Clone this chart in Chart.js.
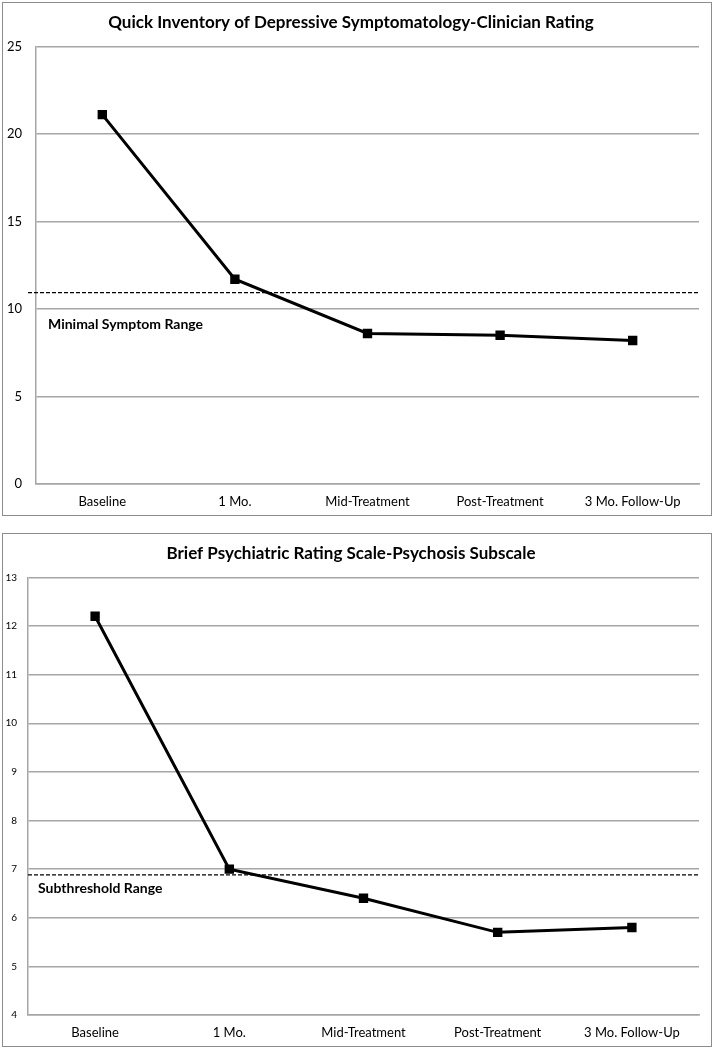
<!DOCTYPE html>
<html>
<head>
<meta charset="utf-8">
<script src="https://cdn.jsdelivr.net/npm/chart.js@4/dist/chart.umd.min.js"></script>
<style>
  body { margin: 0; background: #fff; }
  .box { position: absolute; left: 2px; width: 708px; height: 512px; border: 1px solid #8c8c8c; }
  #box1 { top: 2px; }
  #box2 { top: 533px; }
</style>
</head>
<body>
<div class="box" id="box1"><canvas id="chart1" width="708" height="512"></canvas></div>
<div class="box" id="box2"><canvas id="chart2" width="708" height="512"></canvas></div>
<script>
// data
var categories = ["Baseline", "1 Mo.", "Mid-Treatment", "Post-Treatment", "3 Mo. Follow-Up"];
var qidsValues = [21.1, 11.7, 8.6, 8.5, 8.2];
var bprsValues = [12.2, 7.0, 6.4, 5.7, 5.8];
var qidsTicks = [0, 25, 5];   // min, max, step
var bprsTicks = [4, 13, 1];
var qidsCutoff = 10.93;
var bprsCutoff = 6.88;

Chart.defaults.font.family = "Lato, 'Open Sans', sans-serif";
Chart.defaults.color = '#000';

// dashed cut-off line plus the range label
var rangeLine = {
    id: 'rangeLine',
    afterDatasetsDraw: function (chart, args, opts) {
        var ctx = chart.ctx;
        var y = chart.scales.y.getPixelForValue(opts.value);
        var area = chart.chartArea;
        ctx.save();
        ctx.strokeStyle = '#000';
        ctx.lineWidth = 1.2;
        ctx.setLineDash([4, 2]);
        ctx.beginPath();
        ctx.moveTo(area.left - opts.extendLeft, y);
        ctx.lineTo(area.right, y);
        ctx.stroke();
        ctx.setLineDash([]);
        ctx.font = 'bold 14px Lato, sans-serif';
        ctx.textBaseline = 'middle';
        ctx.fillStyle = '#000';
        ctx.fillText(opts.label, area.left + opts.labelX, chart.scales.y.getPixelForValue(opts.labelValue));
        ctx.restore();
    }
};

function makeChart(id, title, values, ticks, yFont, axisWidth, tickPad, cutoff) {
    var ctx = document.getElementById(id).getContext('2d');
    return new Chart(ctx, {
        type: 'line',
        data: {
            labels: categories,
            datasets: [{
                data: values,
                borderColor: '#000',
                backgroundColor: '#000',
                borderWidth: 3,
                pointStyle: 'rect',
                pointRadius: 4.5,
                tension: 0
            }]
        },
        plugins: [rangeLine],
        options: {
            responsive: false,
            animation: false,
            layout: { padding: { left: 0, right: 12, bottom: 0 } },
            plugins: {
                legend: { display: false },
                tooltip: { enabled: false },
                title: {
                    display: true,
                    text: title,
                    font: { size: 17, weight: 'bold' },
                    padding: { top: 9, bottom: 14 }
                },
                rangeLine: cutoff
            },
            scales: {
                x: {
                    offset: true,
                    grid: { display: false, drawTicks: false },
                    border: { color: '#a6a6a6', width: 1.5 },
                    ticks: { font: { size: 13 }, padding: 10, maxRotation: 0 },
                    afterFit: function (scale) { scale.height = 31; }
                },
                y: {
                    min: ticks[0],
                    max: ticks[1],
                    ticks: { stepSize: ticks[2], font: { size: yFont }, padding: tickPad },
                    grid: { color: '#a6a6a6', lineWidth: 1.5, drawTicks: false },
                    border: { color: '#a6a6a6', width: 1.5 },
                    afterFit: function (scale) { scale.width = axisWidth; }
                }
            }
        }
    });
}

makeChart('chart1', 'Quick Inventory of Depressive Symptomatology-Clinician Rating',
    qidsValues, qidsTicks, 13, 33, 14,
    { value: qidsCutoff, label: 'Minimal Symptom Range', labelValue: 9.1, labelX: 12, extendLeft: 8 });

makeChart('chart2', 'Brief Psychiatric Rating Scale-Psychosis Subscale',
    bprsValues, bprsTicks, 10, 25, 11,
    { value: bprsCutoff, label: 'Subthreshold Range', labelValue: 6.6, labelX: 10, extendLeft: 0 });
</script>
</body>
</html>
